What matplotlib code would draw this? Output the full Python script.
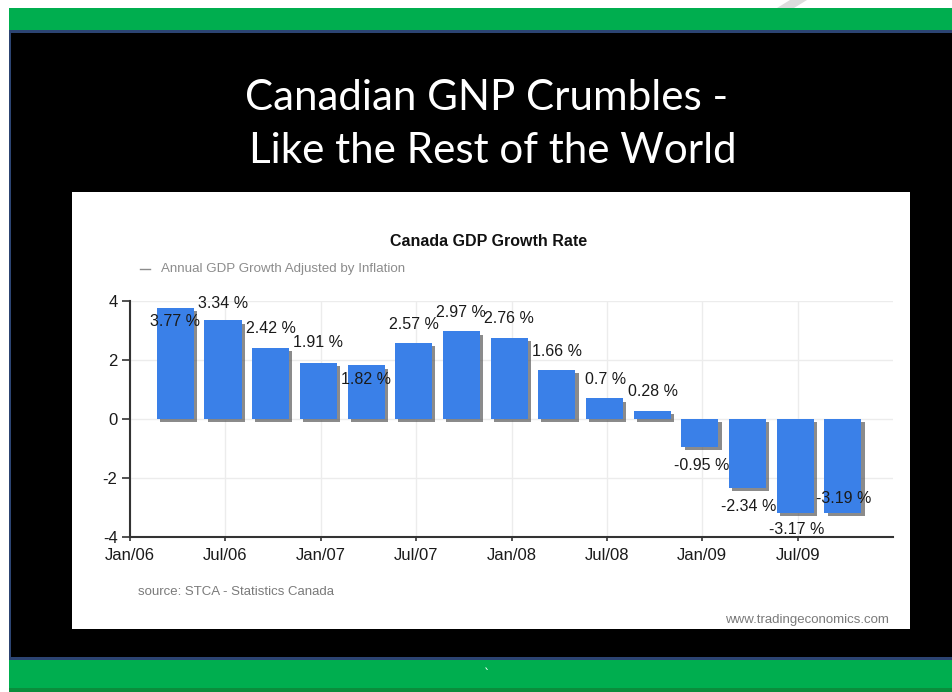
import matplotlib
matplotlib.use("Agg")
import matplotlib.pyplot as plt
import matplotlib.patheffects as pe
from matplotlib.lines import Line2D
from matplotlib.patches import Polygon, Rectangle

W, H = 952, 692

SLIDE_GREEN = "#00ae4f"
DARK_GREEN = "#0a8d3c"
EDGE_BLUE = "#2c4472"
BAR_BLUE = "#3a80e8"
NOTE_GRAY = "#8c8c8c"

quarters = [
    "2006Q1", "2006Q2", "2006Q3", "2006Q4",
    "2007Q1", "2007Q2", "2007Q3", "2007Q4",
    "2008Q1", "2008Q2", "2008Q3", "2008Q4",
    "2009Q1", "2009Q2", "2009Q3",
]
growth = [3.77, 3.34, 2.42, 1.91, 1.82, 2.57, 2.97, 2.76,
          1.66, 0.7, 0.28, -0.95, -2.34, -3.17, -3.19]
tick_months = [0, 6, 12, 18, 24, 30, 36, 42]
tick_labels = ["Jan/06", "Jul/06", "Jan/07", "Jul/07",
               "Jan/08", "Jul/08", "Jan/09", "Jul/09"]

# nudges (pixels) for the value labels so they don't collide
label_dx = [0, 0, 0, 0, 0, 0, 0, 0, 0, 1, 1, 2, 1, 1, 1]
label_dy = [-14, 17, 19, 20, -14, 19, 19, 19, 19, 19, 19, -18, -18, -17, 15]

SANS = ["Liberation Sans", "DejaVu Sans"]

fig = plt.figure(figsize=(W / 100, H / 100), dpi=100, facecolor="white")


def fx(x):
    return x / W


def fy(y):
    return 1 - y / H


def block(x0, y0, x1, y1, color, z=-5):
    fig.add_artist(Rectangle((fx(x0), fy(y1)), (x1 - x0) / W, (y1 - y0) / H,
                             transform=fig.transFigure, facecolor=color,
                             edgecolor="none", zorder=z))


# slide frame: green bands, black body, white chart card
block(9, 8, W, 30, SLIDE_GREEN)
block(9, 30, W, 33, EDGE_BLUE)
block(9, 33, W, 657, EDGE_BLUE)
block(11, 33, W, 657, "black")
block(9, 657, W, 660, EDGE_BLUE)
block(9, 660, W, 688, SLIDE_GREEN)
block(9, 688, W, H, DARK_GREEN)
block(72, 192, 910, 629, "white", z=-4)
fig.add_artist(Polygon([(fx(790), fy(0)), (fx(807), fy(0)), (fx(794), fy(8)), (fx(777), fy(8))],
                       closed=True, transform=fig.transFigure, facecolor="#dcdcdc",
                       edgecolor="none", zorder=-5))

# slide title
fig.text(fx(487), fy(110), "Canadian GNP Crumbles -", color="white", fontsize=30.3,
         family="Lato", ha="center", va="baseline")
fig.text(fx(493), fy(163), "Like the Rest of the World", color="white", fontsize=30.3,
         family="Lato", ha="center", va="baseline")
fig.text(fx(487), fy(674), "`", color="white", fontsize=9, ha="center", va="center")

# chart header and footer
fig.text(fx(489), fy(241), "Canada GDP Growth Rate", fontsize=11.5, fontweight="bold",
         family=SANS, color="#111111", ha="center", va="center")
fig.add_artist(Line2D([fx(140), fx(150)], [fy(269), fy(269)], color=NOTE_GRAY, lw=1,
                      transform=fig.transFigure))
fig.text(fx(161), fy(269), "Annual GDP Growth Adjusted by Inflation", fontsize=9.6,
         family=SANS, color=NOTE_GRAY, ha="left", va="center")
fig.text(fx(138), fy(592), "source: STCA - Statistics Canada", fontsize=9.5,
         family=SANS, color="#7a7a7a", ha="left", va="center")
fig.text(fx(889), fy(620), "www.tradingeconomics.com", fontsize=9.5,
         family=SANS, color="#7a7a7a", ha="right", va="center")

ax = fig.add_axes([fx(130), fy(537), (893 - 130) / W, (537 - 301) / H])
ax.set_facecolor("white")

# bar centred a little before the end of each quarter
starts = [12 * (int(q[:4]) - 2006) + 3 * (int(q[-1]) - 1) for q in quarters]
centers = [s + 2.85 for s in starts]

shadow = [pe.SimplePatchShadow(offset=(2.3, -2.3), shadow_rgbFace="#5a5a5a", alpha=0.7),
          pe.Normal()]
ax.bar(centers, growth, width=2.33, color=BAR_BLUE, path_effects=shadow, zorder=3)

for c, v, dx, dy in zip(centers, growth, label_dx, label_dy):
    ax.annotate(f"{v:g} %", (c, v), xytext=(dx, dy), textcoords="offset pixels",
                ha="center", va="center", fontsize=11.5, family=SANS,
                color="#1a1a1a", annotation_clip=False, zorder=5)

ax.set_xlim(0, 48)
ax.set_ylim(-4, 4)
ax.set_xticks(tick_months)
ax.set_xticklabels(tick_labels)
ax.set_yticks([-4, -2, 0, 2, 4])
ax.set_yticklabels(["-4", "-2", "0", "2", "4"])

ax.grid(color="#ececec", lw=1, zorder=0)
ax.set_axisbelow(True)
for side in ("top", "right"):
    ax.spines[side].set_visible(False)
for side in ("left", "bottom"):
    ax.spines[side].set_color("#333333")
    ax.spines[side].set_linewidth(1.5)

ax.tick_params(axis="y", length=6, width=1.2, color="#333333", pad=3,
               labelsize=12, labelcolor="#1a1a1a")
ax.tick_params(axis="x", length=3, width=1.2, color="#333333", pad=5,
               labelsize=12, labelcolor="#1a1a1a")
for lab in ax.get_xticklabels() + ax.get_yticklabels():
    lab.set_family(SANS)

fig.savefig("out.png", dpi=100, facecolor="white")
